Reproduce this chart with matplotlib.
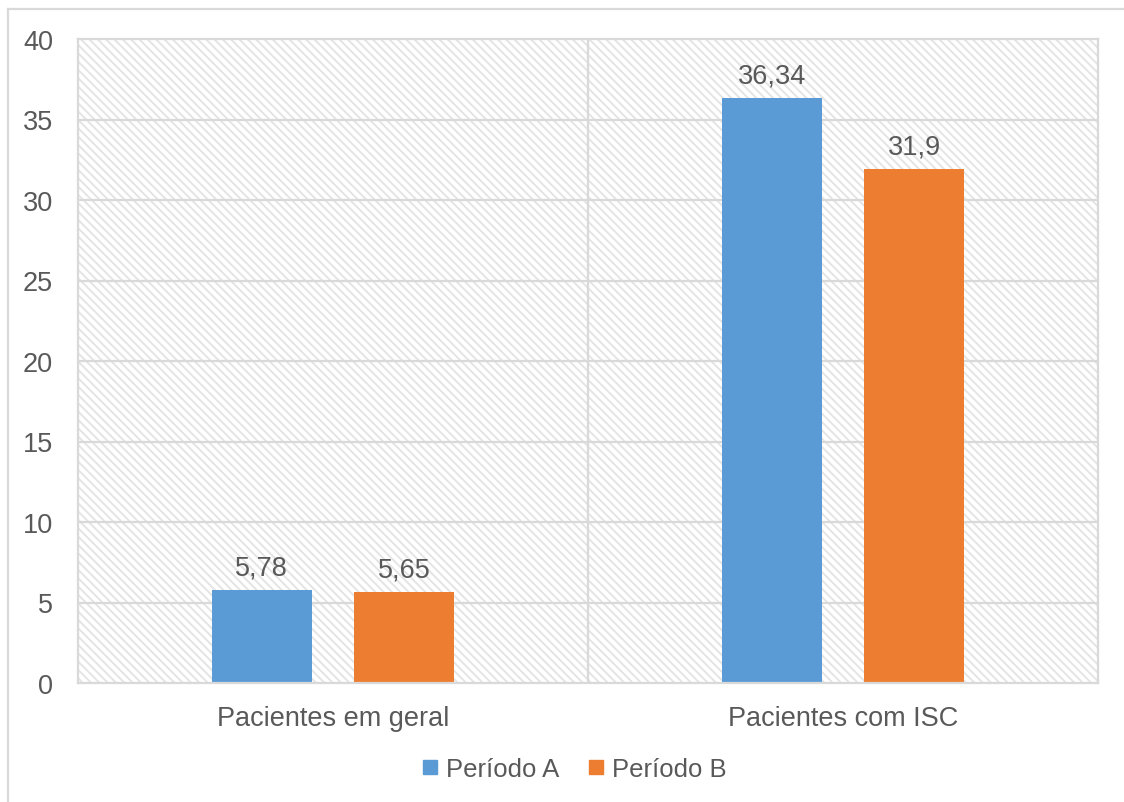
import matplotlib.pyplot as plt
from matplotlib.patches import Rectangle
from matplotlib.lines import Line2D
import numpy as np

categories = ["Pacientes em geral", "Pacientes com ISC"]
series_names = ["Período A", "Período B"]
periodo_a = [5.78, 36.34]
periodo_b = [5.65, 31.9]
value_labels_a = ["5,78", "36,34"]
value_labels_b = ["5,65", "31,9"]
y_ticks = [0, 5, 10, 15, 20, 25, 30, 35, 40]

blue = "#5B9BD5"
orange = "#ED7D31"
text_color = "#595959"
grid_color = "#D9D9D9"

plt.rcParams["font.family"] = ["Liberation Sans", "DejaVu Sans"]
plt.rcParams["hatch.linewidth"] = 1.4

fig = plt.figure(figsize=(11.24, 8.03), dpi=100)
ax = fig.add_axes([78 / 1124, 1 - 684 / 803, 1020 / 1124, 644 / 803])

# hatched plot-area background
bg = Rectangle((0, 0), 1, 1, transform=ax.transAxes, facecolor="white",
               edgecolor="#E4E4E4", hatch="\\\\\\\\", lw=0, zorder=0)
ax.add_patch(bg)
ax.patch.set_visible(False)

x = np.arange(len(categories))
width = 0.196
offset = 0.14
bars_a = ax.bar(x - offset, periodo_a, width, color=blue, zorder=3, label=series_names[0])
bars_b = ax.bar(x + offset, periodo_b, width, color=orange, zorder=3, label=series_names[1])

for bars, labels in ((bars_a, value_labels_a), (bars_b, value_labels_b)):
    for bar, lab in zip(bars, labels):
        ax.annotate(lab, (bar.get_x() + bar.get_width() / 2, bar.get_height()),
                    xytext=(0, 7), textcoords="offset points", ha="center", va="bottom",
                    fontsize=19.5, color=text_color)

ax.set_xlim(-0.5, 1.5)
ax.set_ylim(0, 40)
ax.set_yticks(y_ticks)
ax.set_xticks(x)
ax.set_xticklabels(categories)
ax.tick_params(axis="both", length=0, labelsize=19.5, labelcolor=text_color)
ax.tick_params(axis="y", pad=18)
ax.tick_params(axis="x", pad=16)

for yv in y_ticks[1:-1]:
    ax.axhline(yv, color=grid_color, lw=1.6, zorder=1)
ax.axvline(0.5, color=grid_color, lw=1.6, zorder=1)

for sp in ax.spines.values():
    sp.set_color(grid_color)
    sp.set_linewidth(1.6)
    sp.set_zorder(4)

handles = [Line2D([], [], marker="s", linestyle="none", markersize=10,
                  markerfacecolor=c, markeredgecolor=c) for c in (blue, orange)]
fig.legend(handles, series_names, loc="center", bbox_to_anchor=(572 / 1124, 1 - 770 / 803),
           ncol=2, frameon=False, fontsize=18.5, labelcolor=text_color,
           handletextpad=0.15, columnspacing=0.9, handlelength=1.0)

# chart border (left and top edges)
fig.add_artist(Line2D([8 / 1124, 8 / 1124], [0, 1 - 10 / 803], transform=fig.transFigure,
                      color=grid_color, lw=1.6))
fig.add_artist(Line2D([8 / 1124, 1], [1 - 10 / 803, 1 - 10 / 803], transform=fig.transFigure,
                      color=grid_color, lw=1.6))

fig.savefig("out.png", dpi=100)
